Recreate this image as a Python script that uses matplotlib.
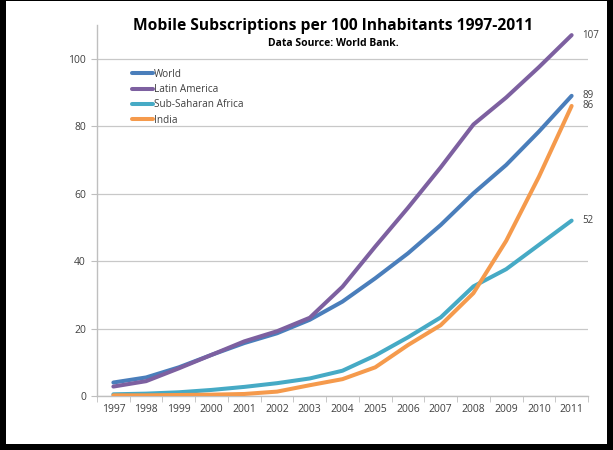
import matplotlib
matplotlib.use("Agg")
import matplotlib.pyplot as plt
from matplotlib.patches import Rectangle

plt.rcParams['font.family'] = ['Open Sans', 'DejaVu Sans']

years = [str(y) for y in range(1997, 2012)]

world = [4.0, 5.5, 8.5, 12.2, 15.7, 18.6, 22.6, 28.0, 34.9, 42.3, 50.7, 60.1, 68.5, 78.4, 89]
latin_america = [2.8, 4.4, 8.2, 12.2, 16.2, 19.2, 23.2, 32.4, 44.3, 55.8, 67.8, 80.5, 88.5, 97.5, 107]
ssa = [0.5, 0.7, 1.1, 1.8, 2.7, 3.8, 5.2, 7.5, 12.0, 17.4, 23.3, 32.5, 37.6, 44.8, 52]
india = [0.2, 0.2, 0.3, 0.4, 0.6, 1.3, 3.2, 5.0, 8.5, 15.1, 21.0, 30.5, 46.0, 65.0, 86]

series = [
    ("World", world, "#4a7ebb"),
    ("Latin America", latin_america, "#7d60a0"),
    ("Sub-Saharan Africa", ssa, "#46aac5"),
    ("India", india, "#f59a4c"),
]
end_labels = ["89", "107", "52", "86"]

fig = plt.figure(figsize=(6.13, 4.5), dpi=100, facecolor="black")
# white panel inside the black frame
fig.patches.append(Rectangle((6 / 613, 6 / 450), 601 / 613, 443 / 450,
                             transform=fig.transFigure, facecolor="white",
                             edgecolor="none", zorder=-10))

ax = fig.add_axes([97 / 613, 1 - 396 / 450, 491 / 613, 371 / 450])
ax.set_facecolor("none")

x = list(range(len(years)))
for (name, vals, color), lab in zip(series, end_labels):
    ax.plot(x, vals, color=color, lw=2.9, label=name, solid_capstyle="round", zorder=3)
    ax.annotate(lab, (x[-1], vals[-1]), xytext=(7.5, 0), textcoords="offset points",
                va="center", ha="left", fontsize=7, color="#404040")

ax.set_xlim(-0.5, len(years) - 0.5)
ax.set_ylim(0, 110)
ax.set_yticks(range(0, 101, 20))
ax.set_xticks(x)
ax.set_xticklabels(years)
ax.set_xticks([i - 0.5 for i in range(len(years) + 1)], minor=True)
ax.tick_params(axis="x", which="major", length=0, pad=6, labelsize=7.5, labelcolor="#404040")
ax.tick_params(axis="x", which="minor", length=4, color="#bfbfbf", direction="out")
ax.tick_params(axis="y", length=4, color="#bfbfbf", labelsize=7.5, labelcolor="#404040", pad=4)

ax.grid(axis="y", color="#c8c8c8", lw=0.9)
ax.set_axisbelow(True)
for s in ["top", "right"]:
    ax.spines[s].set_visible(False)
for s in ["left", "bottom"]:
    ax.spines[s].set_color("#bfbfbf")
    ax.spines[s].set_linewidth(1.0)

leg = ax.legend(loc="upper left", bbox_to_anchor=(0.062, 0.895), frameon=False,
                fontsize=7.2, handlelength=2.1, handletextpad=0.05, labelspacing=0.42,
                borderpad=0)
for t in leg.get_texts():
    t.set_color("#404040")

fig.text(333 / 613, 1 - 26 / 450, "Mobile Subscriptions per 100 Inhabitants 1997-2011",
         ha="center", va="center", fontsize=11.25, fontweight="bold", color="black")
fig.text(333 / 613, 1 - 43 / 450, "Data Source: World Bank.",
         ha="center", va="center", fontsize=7.5, fontweight="bold", color="black")

fig.savefig("out.png", dpi=100, facecolor=fig.get_facecolor())
